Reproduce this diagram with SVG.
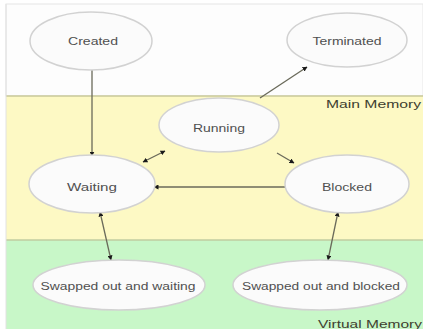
<svg xmlns="http://www.w3.org/2000/svg" width="423" height="329" viewBox="0 0 423 329">
<defs>
<marker id="ah" viewBox="0 0 10 10" refX="9" refY="5" markerWidth="5" markerHeight="5" orient="auto-start-reverse" markerUnits="userSpaceOnUse">
<path d="M0,0 L10,5 L0,10 z" fill="#1a1a1a"/>
</marker>
<style>
.node ellipse{fill:#fbfbfb;stroke:#d2d2d2;stroke-width:1.5}
.lbl{font-family:"Liberation Sans",Arial,sans-serif;font-size:10px;fill:#505050;text-anchor:middle;dominant-baseline:central}
.band{font-family:"Liberation Sans",Arial,sans-serif;font-size:10px;fill:#404030;text-anchor:end}
.edge{stroke:#6a6a5a;stroke-width:1.3;fill:none}
</style>
</defs>
<rect x="0" y="0" width="423" height="329" fill="#ffffff"/>
<rect x="6" y="4" width="417" height="92" fill="#fdfdfd" stroke="#e6e6e6" stroke-width="1"/>
<rect x="6" y="96" width="417" height="144" fill="#fdf9c4"/>
<rect x="6" y="240" width="417" height="89" fill="#c8f7c8"/>
<line x1="6" y1="96" x2="423" y2="96" stroke="#c8c89a" stroke-width="1.5"/>
<line x1="6" y1="240" x2="423" y2="240" stroke="#c0cca0" stroke-width="1.5"/>
<line x1="6" y1="4" x2="6" y2="329" stroke="#e2e2e2" stroke-width="1"/>
<text class="band" x="421" y="108" textLength="95" lengthAdjust="spacingAndGlyphs">Main Memory</text>
<text class="band" x="422" y="328" textLength="104" lengthAdjust="spacingAndGlyphs">Virtual Memory</text>

<g id="connectors">
<line class="edge" x1="92" y1="70" x2="92" y2="156" marker-end="url(#ah)"/>
<line class="edge" x1="260" y1="98" x2="307" y2="67" marker-end="url(#ah)"/>
<line class="edge" x1="165" y1="151" x2="143" y2="162" marker-start="url(#ah)" marker-end="url(#ah)"/>
<line class="edge" x1="277" y1="153" x2="294" y2="163" marker-end="url(#ah)"/>
<line class="edge" x1="285" y1="187" x2="154" y2="187" marker-end="url(#ah)"/>
<line class="edge" x1="100" y1="212" x2="111" y2="260" marker-start="url(#ah)" marker-end="url(#ah)"/>
<line class="edge" x1="338" y1="212" x2="328" y2="260" marker-start="url(#ah)" marker-end="url(#ah)"/>
</g>

<g id="created" class="node"><ellipse cx="91" cy="41" rx="61" ry="29"/><text class="lbl" x="93" y="41" textLength="50" lengthAdjust="spacingAndGlyphs">Created</text></g>
<g id="terminated" class="node"><ellipse cx="347" cy="40" rx="60" ry="27"/><text class="lbl" x="347" y="41" textLength="69" lengthAdjust="spacingAndGlyphs">Terminated</text></g>
<g id="running" class="node"><ellipse cx="219" cy="125" rx="60" ry="27"/><text class="lbl" x="219" y="128" textLength="52" lengthAdjust="spacingAndGlyphs">Running</text></g>
<g id="waiting" class="node"><ellipse cx="92" cy="184" rx="63" ry="29"/><text class="lbl" x="92" y="187" textLength="50" lengthAdjust="spacingAndGlyphs">Waiting</text></g>
<g id="blocked" class="node"><ellipse cx="347" cy="184" rx="62" ry="29"/><text class="lbl" x="347" y="187" textLength="50" lengthAdjust="spacingAndGlyphs">Blocked</text></g>
<g id="swapped-waiting" class="node"><ellipse cx="119" cy="285" rx="86" ry="25"/><text class="lbl" x="118" y="286" textLength="155" lengthAdjust="spacingAndGlyphs">Swapped out and waiting</text></g>
<g id="swapped-blocked" class="node"><ellipse cx="320" cy="285" rx="87" ry="25"/><text class="lbl" x="321" y="286" textLength="158" lengthAdjust="spacingAndGlyphs">Swapped out and blocked</text></g>
</svg>
